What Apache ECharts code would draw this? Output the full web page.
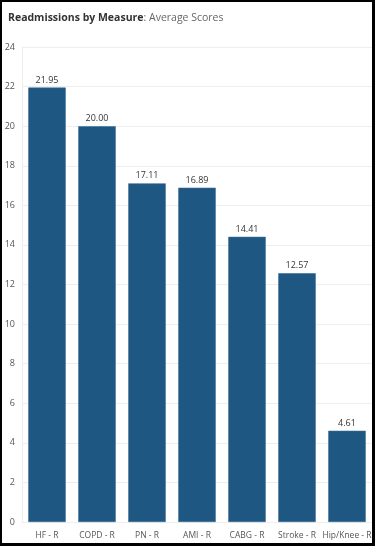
<!DOCTYPE html>
<html><head><meta charset="utf-8">
<script src="https://cdn.jsdelivr.net/npm/echarts@6/dist/echarts.min.js"></script>
<style>
html,body{margin:0;padding:0;background:#fff;}
#frame{position:absolute;left:0;top:0;width:375px;height:546px;box-sizing:border-box;border-top:2px solid #000;border-left:2px solid #000;border-right:3px solid #000;border-bottom:3px solid #000;}
#c{position:absolute;left:0;top:0;width:375px;height:548px;}
</style></head>
<body>
<div id="c"></div>
<div id="frame"></div>
<script>
const categories = ["HF - R","COPD - R","PN - R","AMI - R","CABG - R","Stroke - R","Hip/Knee - R"];
const scores = [21.95, 20.00, 17.11, 16.89, 14.41, 12.57, 4.61];
const yTicks = [0,2,4,6,8,10,12,14,16,18,20,22,24];

const chart = echarts.init(document.getElementById('c'), null, {renderer:'canvas'});
chart.setOption({
  animation:false,
  title:{
    text:'{b|Readmissions by Measure}{n|: Average Scores}',
    left:3, top:8,
    textStyle:{rich:{
      b:{fontFamily:'Open Sans',fontSize:10.5,fontWeight:'bold',color:'#333'},
      n:{fontFamily:'Open Sans',fontSize:10.5,fontWeight:'normal',color:'#666'}
    }}
  },
  grid:{left:22,right:3,top:47,bottom:26,containLabel:false},
  xAxis:{
    type:'category',data:categories,
    axisLine:{show:false},axisTick:{show:false},
    axisLabel:{fontFamily:'Open Sans',fontSize:8.5,color:'#555',margin:9,interval:0}
  },
  yAxis:{
    type:'value',min:0,max:24,interval:2,
    axisLine:{show:true,lineStyle:{color:'#eee'}},
    axisTick:{show:false},
    splitLine:{lineStyle:{color:'#eee',width:1}},
    axisLabel:{fontFamily:'Open Sans',fontSize:9,color:'#555',margin:7,
      formatter:v=>yTicks.includes(v)?String(v):''}
  },
  series:[{
    type:'bar',data:scores,barWidth:'75%',
    itemStyle:{color:'#1f5783',borderColor:'#3a6d96',borderWidth:0.6},
    label:{show:true,position:'top',distance:3,fontFamily:'Open Sans',fontSize:9,color:'#333',
      formatter:p=>p.value.toFixed(2)}
  }]
});
</script>
</body></html>
